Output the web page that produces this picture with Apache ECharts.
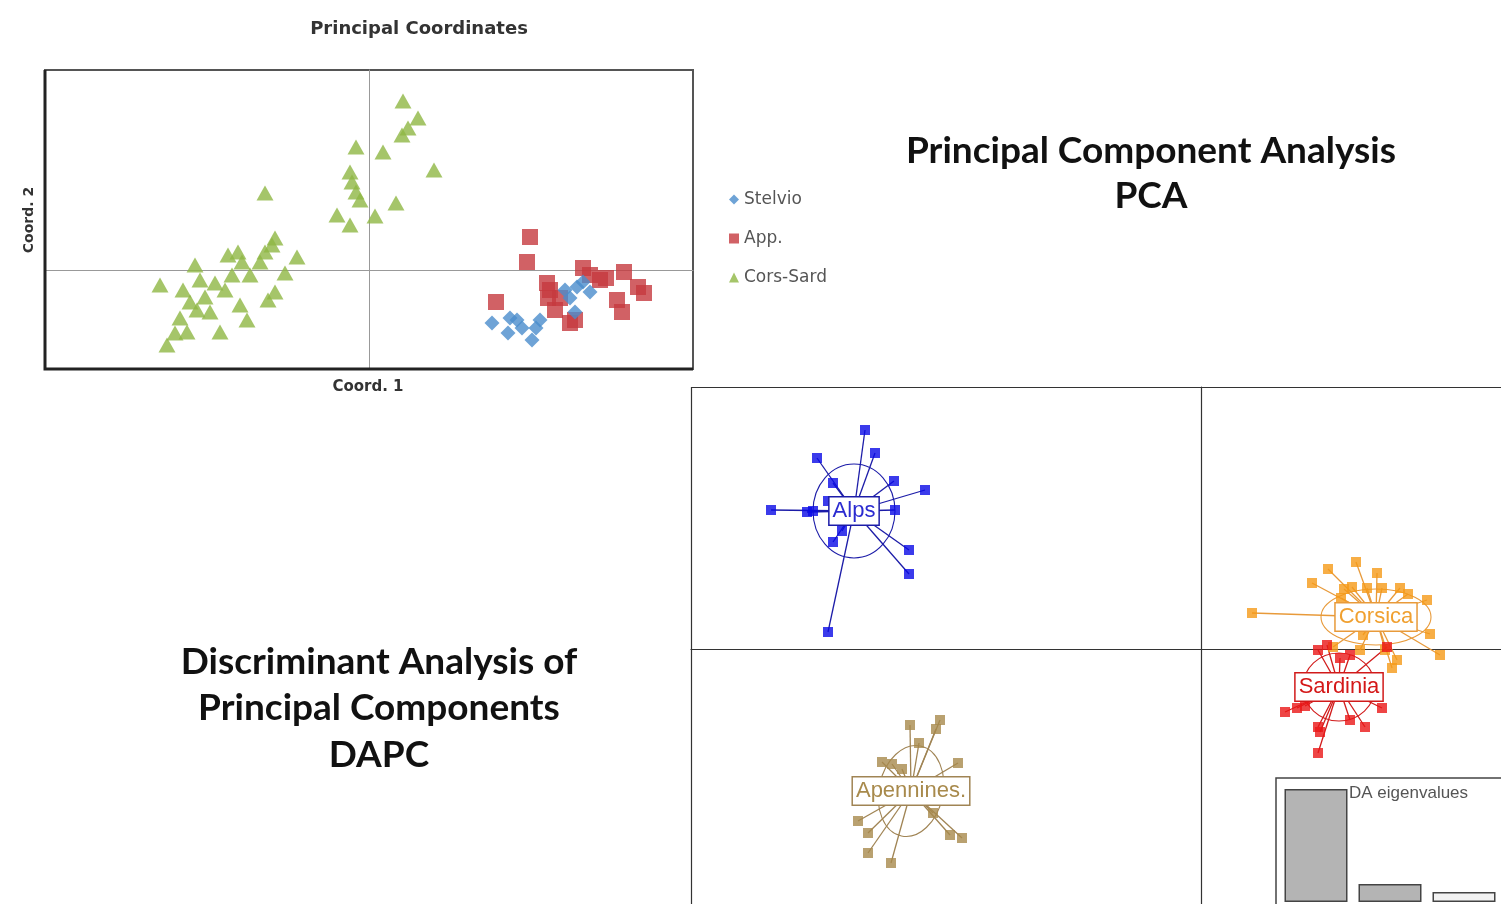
<!DOCTYPE html>
<html>
<head>
<meta charset="utf-8">
<script src="https://cdn.jsdelivr.net/npm/echarts@6/dist/echarts.min.js"></script>
<style>
  html, body { margin: 0; padding: 0; background: #fff; }
  #chart { width: 1501px; height: 904px; }
</style>
</head>
<body>
<div id="chart"></div>
<script>
// ---- PCA (principal coordinates) ----
const stelvio = [
  [1.23, -0.53], [1.39, -0.63], [1.48, -0.50], [1.53, -0.58], [1.63, -0.70], [1.71, -0.50],
  [1.67, -0.58], [1.96, -0.20], [2.08, -0.17], [2.21, -0.22], [2.06, -0.42], [2.14, -0.12],
  [2.01, -0.28], [1.41, -0.48]
];
const app = [
  [1.61, 0.33], [1.58, 0.08], [1.27, -0.32], [1.78, -0.13], [1.79, -0.28], [1.91, -0.28],
  [1.86, -0.40], [2.01, -0.53], [2.14, 0.02], [2.21, -0.05], [2.31, -0.10], [2.37, -0.08],
  [2.55, -0.02], [2.69, -0.17], [2.75, -0.23], [2.48, -0.30], [2.53, -0.42], [1.81, -0.20],
  [2.06, -0.50]
];
const corsSard = [
  [0.34, 1.69], [0.49, 1.52], [0.39, 1.42], [0.33, 1.35], [-0.13, 1.23], [0.14, 1.18],
  [0.65, 1.00], [-0.19, 0.98], [-0.17, 0.88], [-0.13, 0.78], [-0.09, 0.70], [-0.32, 0.55],
  [-0.19, 0.45], [0.06, 0.54], [0.27, 0.67], [-1.04, 0.77], [-0.94, 0.32], [-0.72, 0.13],
  [-0.84, -0.03], [-1.31, 0.18], [-1.41, 0.15], [-1.04, 0.18], [-1.09, 0.08], [-1.19, -0.05],
  [-1.74, 0.05], [-1.69, -0.10], [-2.09, -0.15], [-1.86, -0.20], [-1.54, -0.13], [-1.44, -0.20],
  [-0.94, -0.22], [-1.01, -0.30], [-1.29, -0.35], [-1.22, -0.50], [-1.49, -0.62], [-1.72, -0.40],
  [-1.89, -0.48], [-1.82, -0.62], [-2.02, -0.75], [-1.64, -0.27], [-1.79, -0.32], [-1.94, -0.63],
  [-1.59, -0.42], [-1.37, -0.05], [-1.27, 0.08], [-0.97, 0.25]
];
const pcaNames = ['Stelvio', 'App.', 'Cors-Sard'];

// ---- DAPC ----
const alps = [
  [-3.36, 2.19], [-3.26, 1.96], [-3.84, 1.91], [-3.68, 1.66], [-3.07, 1.68], [-2.76, 1.59],
  [-4.30, 1.39], [-3.94, 1.37], [-3.88, 1.38], [-3.06, 1.39], [-3.59, 1.18], [-3.68, 1.07],
  [-2.92, 0.99], [-2.92, 0.75], [-3.73, 0.17], [-3.73, 1.48]
];
const apennines = [
  [-2.91, -0.76], [-2.61, -0.71], [-2.65, -0.80], [-2.82, -0.94], [-3.19, -1.13], [-3.09, -1.15],
  [-2.99, -1.20], [-2.43, -1.14], [-2.68, -1.64], [-3.43, -1.72], [-3.33, -1.84], [-2.51, -1.86],
  [-2.39, -1.89], [-3.33, -2.04], [-3.10, -2.14]
];
const corsica = [
  [1.55, 0.87], [1.27, 0.80], [1.76, 0.76], [1.11, 0.66], [1.43, 0.60], [1.51, 0.62],
  [1.66, 0.61], [1.81, 0.61], [1.99, 0.61], [2.07, 0.55], [2.26, 0.49], [0.51, 0.36],
  [2.29, 0.15], [2.39, -0.06], [1.62, 0.14], [1.59, -0.01], [1.96, -0.11], [1.91, -0.19],
  [1.32, 0.02], [1.84, -0.01], [1.40, 0.51]
];
const sardinia = [
  [1.17, -0.01], [1.26, 0.04], [1.49, -0.06], [1.86, 0.02], [1.39, -0.09], [0.84, -0.63],
  [0.96, -0.59], [1.17, -0.78], [1.19, -0.83], [1.49, -0.71], [1.64, -0.78], [1.81, -0.59],
  [1.17, -1.04], [1.04, -0.57]
];
const groupNames = ['Alps', 'Apennines.', 'Corsica', 'Sardinia'];
const groupCenters = [[-3.47, 1.38], [-2.90, -1.42], [1.75, 0.32], [1.38, -0.38]];
// ellipse: rx, ry, rotation (deg)
const groupEllipses = [[0.41, 0.47, 0], [0.32, 0.46, -12], [0.55, 0.28, 0], [0.36, 0.34, 0]];

const eigenLabels = ['1', '2', '3'];
const eigenValues = [11.3, 1.8, 1.0];

const groupColors = ['#0a0ae6', '#a88a4c', '#f59a18', '#ea1616'];
const lineColors = ['#1c1ca8', '#a08454', '#e89a3a', '#d11a1a'];
const textColors = ['#2b2bd0', '#a88a4c', '#f0a030', '#d41818'];
const groupPoints = [alps, apennines, corsica, sardinia];

const chart = echarts.init(document.getElementById('chart'));

function starSeries(i) {
  const c = groupCenters[i];
  return {
    type: 'custom', xAxisIndex: 1, yAxisIndex: 1, z: 3,
    data: groupPoints[i].map(p => [p[0], p[1], c[0], c[1]]),
    renderItem: (params, api) => {
      const a = api.coord([api.value(2), api.value(3)]);
      const b = api.coord([api.value(0), api.value(1)]);
      return {
        type: 'line',
        shape: { x1: a[0], y1: a[1], x2: b[0], y2: b[1] },
        style: { stroke: lineColors[i], lineWidth: 1.3 }
      };
    }
  };
}

function ellipseSeries(i) {
  const c = groupCenters[i];
  const e = groupEllipses[i];
  return {
    type: 'custom', xAxisIndex: 1, yAxisIndex: 1, z: 3,
    data: [[c[0], c[1], e[0], e[1], e[2]]],
    renderItem: (params, api) => {
      const p = api.coord([api.value(0), api.value(1)]);
      const s = api.size([api.value(2), api.value(3)]);
      return {
        type: 'ellipse',
        x: p[0], y: p[1],
        rotation: api.value(4) * Math.PI / 180,
        shape: { cx: 0, cy: 0, rx: s[0], ry: s[1] },
        style: { fill: 'none', stroke: lineColors[i], lineWidth: 1.1 }
      };
    }
  };
}

function pointSeries(i) {
  return {
    type: 'scatter', xAxisIndex: 1, yAxisIndex: 1, z: 4,
    symbol: 'rect', symbolSize: 10,
    itemStyle: { color: groupColors[i] },
    data: groupPoints[i]
  };
}

// group name boxes, drawn on top of everything in the DAPC panel
const labelSeries = {
  type: 'custom', xAxisIndex: 1, yAxisIndex: 1, z: 8,
  data: groupCenters.map((c, i) => [c[0], c[1], i]),
  renderItem: (params, api) => {
    const p = api.coord([api.value(0), api.value(1)]);
    const i = api.value(2);
    return {
      type: 'text',
      x: p[0], y: p[1],
      style: {
        text: groupNames[i], x: 0, y: 0, align: 'center', verticalAlign: 'middle',
        fill: textColors[i], font: '22px "Liberation Sans"',
        backgroundColor: '#fff', borderColor: lineColors[i], borderWidth: 1.5,
        padding: [3, 3, 2, 3]
      }
    };
  }
};

const option = {
  animation: false,
  backgroundColor: '#fff',
  legend: {
    data: [
      { name: 'Stelvio', icon: 'diamond' },
      { name: 'App.', icon: 'rect' },
      { name: 'Cors-Sard', icon: 'triangle' }
    ],
    orient: 'vertical', left: 724, top: 186,
    itemWidth: 10, itemHeight: 10, itemGap: 22,
    textStyle: { color: '#555', fontSize: 17, fontFamily: 'DejaVu Sans' }
  },
  grid: [
    { left: 45, top: 70, width: 648, height: 299, show: true, borderColor: '#555', borderWidth: 2 },
    { left: 691, top: 387, width: 810, height: 517 },
    { left: 1279, top: 789, width: 225, height: 113 }
  ],
  xAxis: [
    { gridIndex: 0, type: 'value', min: -3.24, max: 3.24,
      axisLine: { onZero: true, lineStyle: { color: '#999', width: 1 } },
      axisTick: { show: false }, axisLabel: { show: false }, splitLine: { show: false } },
    { gridIndex: 1, type: 'value', min: -5.1, max: 3.0,
      axisLine: { onZero: true, lineStyle: { color: '#333', width: 1.2 } },
      axisTick: { show: false }, axisLabel: { show: false }, splitLine: { show: false } },
    { gridIndex: 2, type: 'category', data: eigenLabels, show: false }
  ],
  yAxis: [
    { gridIndex: 0, type: 'value', min: -0.99, max: 2.0,
      axisLine: { onZero: true, lineStyle: { color: '#999', width: 1 } },
      axisTick: { show: false }, axisLabel: { show: false }, splitLine: { show: false } },
    { gridIndex: 1, type: 'value', min: -2.55, max: 2.62,
      axisLine: { onZero: true, lineStyle: { color: '#333', width: 1.2 } },
      axisTick: { show: false }, axisLabel: { show: false }, splitLine: { show: false } },
    { gridIndex: 2, type: 'value', min: 0, max: 11.3, show: false }
  ],
  graphic: [
    { type: 'polyline', z: 10, shape: { points: [[45, 70], [45, 369], [693, 369]] },
      style: { stroke: '#222', lineWidth: 3, fill: 'none' } },
    // DAPC panel frame (top and left edges only, the rest runs off the page)
    { type: 'polyline', z: 10, shape: { points: [[1501, 387.5], [691.5, 387.5], [691.5, 904]] },
      style: { stroke: '#333', lineWidth: 1.2, fill: 'none' } },
    { type: 'text', style: { text: 'Principal Coordinates', x: 419, y: 29, textAlign: 'center', textVerticalAlign: 'middle',
      font: 'bold 18px "DejaVu Sans"', fill: '#333' } },
    { type: 'text', style: { text: 'Coord. 1', x: 368, y: 387, textAlign: 'center', textVerticalAlign: 'middle',
      font: 'bold 15px "DejaVu Sans"', fill: '#333' } },
    { type: 'text', x: 29, y: 220, rotation: Math.PI / 2, style: { text: 'Coord. 2', x: 0, y: 0, textAlign: 'center', textVerticalAlign: 'middle',
      font: 'bold 14px "DejaVu Sans"', fill: '#333' } },
    { type: 'text', style: { text: 'Principal Component Analysis', x: 1151, y: 151, textAlign: 'center', textVerticalAlign: 'middle',
      font: 'bold 37px Lato', fill: '#111' } },
    { type: 'text', style: { text: 'PCA', x: 1151, y: 196, textAlign: 'center', textVerticalAlign: 'middle',
      font: 'bold 37px Lato', fill: '#111' } },
    { type: 'text', style: { text: 'Discriminant Analysis of', x: 379, y: 662, textAlign: 'center', textVerticalAlign: 'middle',
      font: 'bold 37px Lato', fill: '#111' } },
    { type: 'text', style: { text: 'Principal Components', x: 379, y: 708, textAlign: 'center', textVerticalAlign: 'middle',
      font: 'bold 37px Lato', fill: '#111' } },
    { type: 'text', style: { text: 'DAPC', x: 379, y: 755, textAlign: 'center', textVerticalAlign: 'middle',
      font: 'bold 37px Lato', fill: '#111' } },
    { type: 'rect', z: 5, shape: { x: 1276, y: 778, width: 240, height: 140 },
      style: { fill: '#fff', stroke: '#444', lineWidth: 1.5 } },
    { type: 'text', z: 12, style: { text: 'DA eigenvalues', x: 1349, y: 785, font: '17px "Liberation Sans"', fill: '#555' } }
  ],
  series: [
    { name: 'Cors-Sard', type: 'scatter', xAxisIndex: 0, yAxisIndex: 0, symbol: 'triangle', symbolSize: [17, 15],
      itemStyle: { color: '#8fb743' }, data: corsSard },
    { name: 'App.', type: 'scatter', xAxisIndex: 0, yAxisIndex: 0, symbol: 'rect', symbolSize: 16,
      itemStyle: { color: '#c53a3e' }, data: app },
    { name: 'Stelvio', type: 'scatter', xAxisIndex: 0, yAxisIndex: 0, symbol: 'diamond', symbolSize: [15, 15],
      itemStyle: { color: '#4a8ccc' }, data: stelvio },
    ellipseSeries(0), starSeries(0), pointSeries(0),
    ellipseSeries(1), starSeries(1), pointSeries(1),
    ellipseSeries(2), starSeries(2), pointSeries(2),
    ellipseSeries(3), starSeries(3), pointSeries(3),
    labelSeries,
    { type: 'bar', xAxisIndex: 2, yAxisIndex: 2, z: 11, barWidth: 63,
      data: eigenValues.map((v, i) => ({ value: v, itemStyle: { color: i < 2 ? '#b4b4b4' : '#f2f2f2' } })),
      itemStyle: { borderColor: '#444', borderWidth: 1.5 } }
  ]
};

chart.setOption(option);
</script>
</body>
</html>
